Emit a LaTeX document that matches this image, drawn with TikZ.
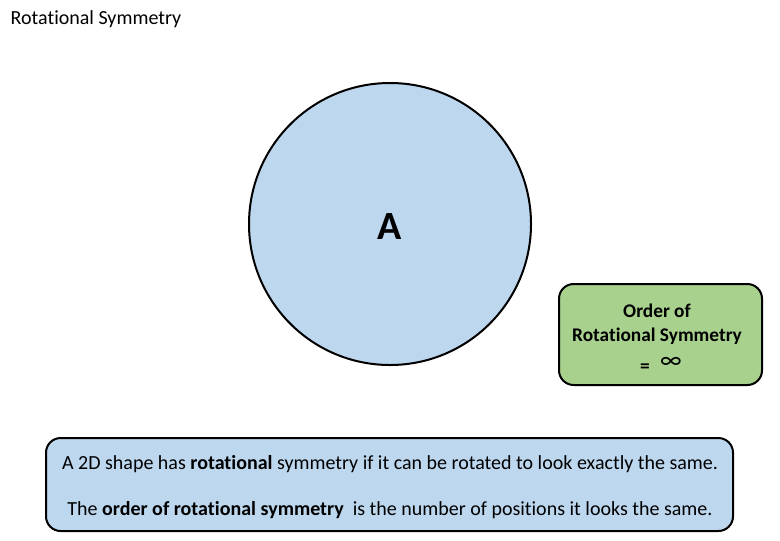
\documentclass[tikz,border=0pt]{standalone}
\usepackage{fontspec}
\setmainfont[RawFeature=-liga]{Carlito}
\definecolor{lblue}{HTML}{BDD7EE}
\definecolor{lgreen}{HTML}{A9D18E}
\begin{document}
\begin{tikzpicture}[x=0.75pt,y=-0.75pt,
  boxstyle/.style={draw=black,line width=1.5pt,rounded corners=11pt},
  txt/.style={font=\fontsize{15pt}{18pt}\selectfont}]
\useasboundingbox (0,0) rectangle (780,540);
\node[anchor=west,font=\fontsize{15pt}{18pt}\selectfont] (title) at (6,19) {Rotational Symmetry};
\node[draw=black,line width=1.5pt,fill=lblue,circle,minimum size=282*0.75pt,inner sep=0pt] (circ) at (390,224) {};
\node[font=\fontsize{30pt}{34pt}\selectfont\bfseries] (A) at (390,227) {A};
\draw[boxstyle,fill=lgreen] (559,284) rectangle (762,385);
\node[font=\fontsize{14.5pt}{18pt}\selectfont\bfseries,align=center] (ord) at (657,324) {Order of\\Rotational Symmetry};
\node[font=\fontsize{14.5pt}{18pt}\selectfont\bfseries] (eq) at (645,368) {=};
\node[font=\fontsize{19pt}{20pt}\selectfont] (inf) at (671,363) {∞};
\draw[boxstyle,fill=lblue] (46,438) rectangle (733,531);
\node[txt] (l1) at (390,464) {A 2D shape has \textbf{rotational} symmetry if it can be rotated to look exactly the same.};
\node[txt] (l2) at (390,510) {The \textbf{order of rotational symmetry}\ \ is the number of positions it looks the same.};
\end{tikzpicture}
\end{document}
